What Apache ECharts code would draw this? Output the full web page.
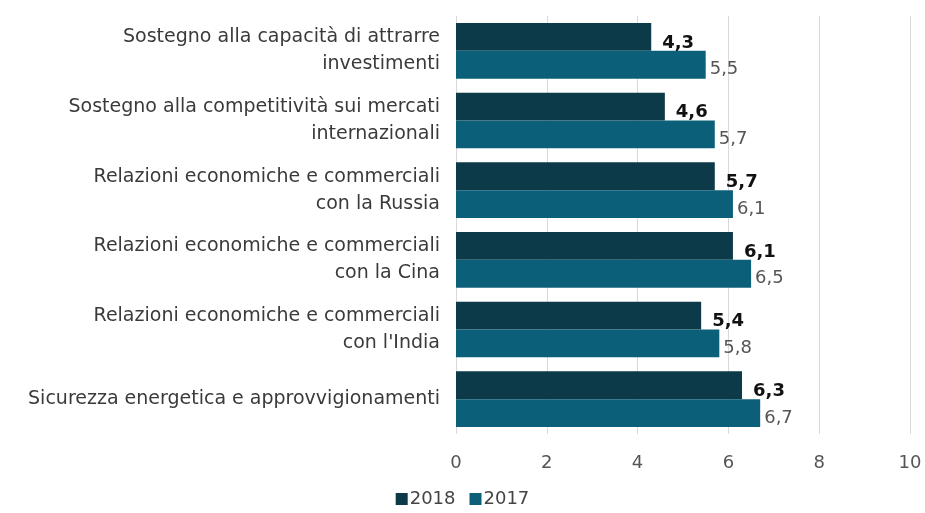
<!DOCTYPE html>
<html>
<head>
<meta charset="utf-8">
<script src="https://cdn.jsdelivr.net/npm/echarts@6/dist/echarts.min.js"></script>
<style>html,body{margin:0;padding:0;background:#fff}#c{width:925px;height:513px}</style>
</head>
<body>
<div id="c"></div>
<script>
const categories = [
  "Sostegno alla capacità di attrarre\ninvestimenti",
  "Sostegno alla competitività sui mercati\ninternazionali",
  "Relazioni economiche e commerciali\ncon la Russia",
  "Relazioni economiche e commerciali\ncon la Cina",
  "Relazioni economiche e commerciali\ncon l'India",
  "Sicurezza energetica e approvvigionamenti"
];
const values2018 = [4.3, 4.6, 5.7, 6.1, 5.4, 6.3];
const values2017 = [5.5, 5.7, 6.1, 6.5, 5.8, 6.7];
const xTicks = [0, 2, 4, 6, 8, 10];

const fmt = v => String(v).replace('.', ',');
const FONT = 'DejaVu Sans';
const chart = echarts.init(document.getElementById('c'));
chart.setOption({
  animation: false,
  textStyle: {fontFamily: FONT},
  grid: {left: 456, right: 15, top: 16, bottom: 79, containLabel: false},
  legend: {
    bottom: 0, left: 'center', itemWidth: 12, itemHeight: 12, itemGap: 14,
    icon: 'rect',
    textStyle: {fontSize: 18, color: '#444', fontFamily: FONT, padding: [0, 0, 0, -3]},
    data: ['2018', '2017']
  },
  xAxis: {
    type: 'value', min: xTicks[0], max: xTicks[xTicks.length - 1], interval: 2,
    axisLine: {show: false}, axisTick: {show: false},
    axisLabel: {fontSize: 18, color: '#555', margin: 20, fontFamily: FONT},
    splitLine: {lineStyle: {color: '#d9d9d9', width: 1}}
  },
  yAxis: {
    type: 'category', data: categories, inverse: true,
    axisLine: {show: false}, axisTick: {show: false},
    axisLabel: {fontSize: 19, color: '#3a3a3a', margin: 16, lineHeight: 27, align: 'right', fontFamily: FONT}
  },
  series: [
    {
      name: '2018', type: 'bar', data: values2018, barGap: '0%', barCategoryGap: '20%',
      itemStyle: {color: '#0c3a48'},
      label: {show: true, position: 'right', distance: 11, offset: [0, 6], formatter: p => fmt(p.value),
        fontSize: 18, fontWeight: 'bold', color: '#111', fontFamily: FONT}
    },
    {
      name: '2017', type: 'bar', data: values2017,
      itemStyle: {color: '#0c5f78'},
      label: {show: true, position: 'right', distance: 4, offset: [0, 5], formatter: p => fmt(p.value),
        fontSize: 18, color: '#555', fontFamily: FONT}
    }
  ]
});
</script>
</body>
</html>
